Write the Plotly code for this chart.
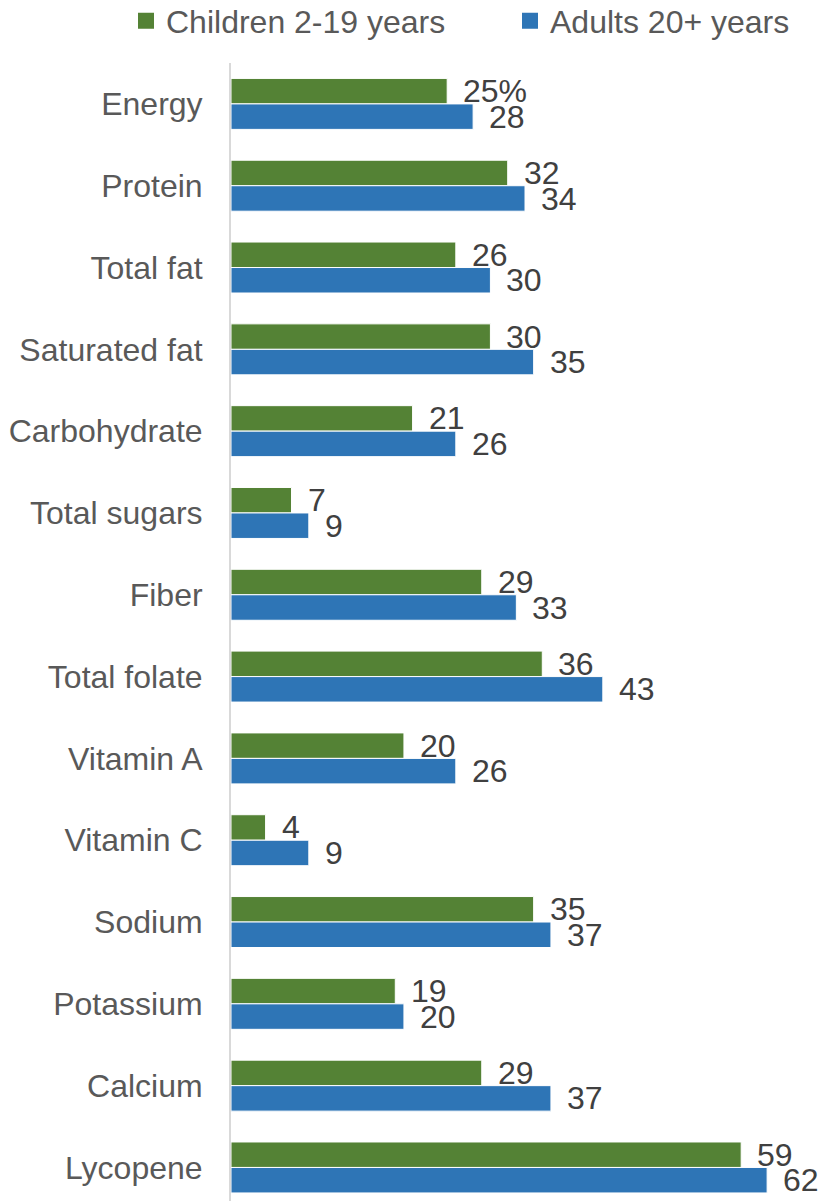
import plotly.graph_objects as go

# Nutrient categories, top to bottom
categories = ["Energy", "Protein", "Total fat", "Saturated fat", "Carbohydrate",
              "Total sugars", "Fiber", "Total folate", "Vitamin A", "Vitamin C",
              "Sodium", "Potassium", "Calcium", "Lycopene"]

children = [25, 32, 26, 30, 21, 7, 29, 36, 20, 4, 35, 19, 29, 59]
adults = [28, 34, 30, 35, 26, 9, 33, 43, 26, 9, 37, 20, 37, 62]

series_names = ["Children 2-19 years", "Adults 20+ years"]
GREEN = "#548235"
BLUE = "#2E75B6"
FONT = "Liberation Sans, Arial, sans-serif"

fig = go.Figure()

for name, vals, col, leg in [(series_names[0], children, GREEN, "legend"),
                             (series_names[1], adults, BLUE, "legend2")]:
    fig.add_trace(go.Bar(
        y=categories, x=vals, orientation="h", name=name,
        marker=dict(color=col, line=dict(color="white", width=1)),
        showlegend=False, hoverinfo="x+y",
    ))
    # legend entry with a larger square swatch
    fig.add_trace(go.Scatter(
        x=[None], y=[None], mode="markers", name=name,
        marker=dict(symbol="square", size=16, color=col),
        showlegend=True, legend=leg,
    ))

# value labels just past the end of each bar
for i, cat in enumerate(categories):
    for vals, shift, fmt in [(children, 12.8, "{}%" if i == 0 else "{}"), (adults, -12.8, "{}")]:
        fig.add_annotation(
            x=vals[i], y=cat, xref="x", yref="y",
            text=fmt.format(vals[i]), showarrow=False,
            xanchor="left", yanchor="middle", xshift=14, yshift=shift,
            font=dict(family=FONT, size=32, color="#404040"),
        )

legend_common = dict(
    orientation="h", xref="container", yref="container",
    yanchor="middle", y=1 - 21 / 1201, xanchor="left",
    font=dict(family=FONT, size=32, color="#595959"),
    bgcolor="rgba(0,0,0,0)", itemclick=False,
)

fig.update_layout(
    width=819, height=1201,
    margin=dict(l=231, r=0, t=63, b=0),
    paper_bgcolor="white", plot_bgcolor="white",
    barmode="group", bargap=0.377, bargroupgap=0,
    font=dict(family=FONT, size=32, color="#595959"),
    legend=dict(x=126 / 819, **legend_common),
    legend2=dict(x=510 / 819, **legend_common),
    xaxis=dict(range=[0, 68], showgrid=False, zeroline=False, showticklabels=False,
               showline=False, fixedrange=True),
    yaxis=dict(categoryorder="array", categoryarray=categories,
               range=[13.41, -0.5], showgrid=False, zeroline=False,
               showline=True, linecolor="#d9d9d9", linewidth=2,
               ticks="", ticklabelstandoff=20,
               tickfont=dict(family=FONT, size=32, color="#595959")),
)

fig.write_html("out.html")
